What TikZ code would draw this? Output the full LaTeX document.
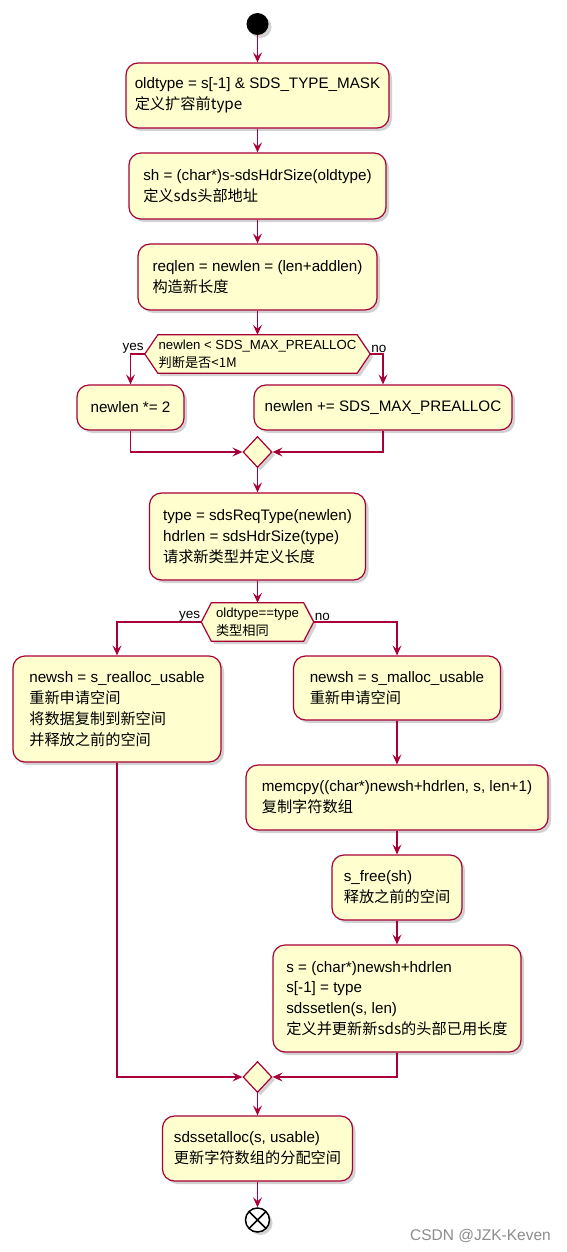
\documentclass[tikz,border=0pt]{standalone}
\usepackage{fontspec}
\setmainfont{Liberation Sans}
\newfontfamily\cjk{Noto Sans CJK SC}
\usetikzlibrary{arrows.meta,shapes.geometric,shadows,backgrounds}
\definecolor{pborder}{HTML}{A80036}
\definecolor{pfill}{HTML}{FEFECE}
\definecolor{wmc}{HTML}{8C8C8C}
\begin{document}
\begin{tikzpicture}[x=1pt,y=-1pt,
  shad/.style={drop shadow={opacity=0.25,shadow xshift=3pt,shadow yshift=-3pt,fill=black!70}},
  act/.style={draw=pborder,fill=pfill,line width=1.2pt,rounded corners=12pt,align=left,inner sep=0pt,font=\fontsize{15.2}{20.8}\selectfont,shad},
  dectext/.style={inner sep=0pt,align=left,minimum height=38pt,font=\fontsize{13.2}{18}\selectfont},
  hexa/.style={draw=pborder,fill=pfill,line width=1.2pt,shad},
  merge/.style={diamond,draw=pborder,fill=pfill,line width=1.2pt,inner sep=0pt,minimum width=29pt,minimum height=31pt,shad},
  lbl/.style={font=\fontsize{13.5}{15}\selectfont,inner sep=1pt},
  arr/.style={draw=pborder,line width=1.2pt,-{Stealth[length=10pt,width=9pt,inset=4pt]}}]
\useasboundingbox (0,0) rectangle (567,1252);
% start
\node[circle,fill=black,minimum size=22pt,inner sep=0pt,shad] (start) at (257.5,24) {};
% boxes
\node[act,minimum width=263pt,minimum height=65pt] (b1) at (257.5,95.5) {oldtype = s[-1] \& SDS\_TYPE\_MASK\\{\cjk 定义扩容前type}};
\node[act,minimum width=257pt,minimum height=66pt] (b2) at (257.5,186) {sh = (char*)s-sdsHdrSize(oldtype)\\{\cjk 定义sds头部地址}};
\node[act,minimum width=239pt,minimum height=66pt] (b3) at (257.5,277) {reqlen = newlen = (len+addlen)\\{\cjk 构造新长度}};
% decision 1
\node[dectext,minimum width=225pt] (d1) at (257.5,354) {newlen < SDS\_MAX\_PREALLOC\\{\cjk 判断是否<1M}};
\begin{scope}[on background layer]
\path[hexa] (d1.west) -- ([xshift=13pt]d1.north west) -- ([xshift=-13pt]d1.north east) -- (d1.east) -- ([xshift=-13pt]d1.south east) -- ([xshift=13pt]d1.south west) -- cycle;
\end{scope}
\node[lbl,anchor=south east] (yes1) at (d1.west) {yes};
\node[lbl,anchor=south west] (no1) at (d1.east) {no};
\node[act,minimum width=107pt,minimum height=45pt] (y1) at (130.5,407.5) {newlen *= 2};
\node[act,minimum width=258pt,minimum height=45pt] (n1) at (383,407.5) {newlen += SDS\_MAX\_PREALLOC};
\node[merge] (m1) at (257.5,452) {};
\node[act,minimum width=216pt,minimum height=87pt] (b4) at (257.5,536.5) {type = sdsReqType(newlen)\\hdrlen = sdsHdrSize(type)\\{\cjk 请求新类型并定义长度}};
% decision 2
\node[dectext,minimum width=112pt] (d2) at (257.5,622) {oldtype==type\\{\cjk 类型相同}};
\begin{scope}[on background layer]
\path[hexa] (d2.west) -- ([xshift=10pt]d2.north west) -- ([xshift=-10pt]d2.north east) -- (d2.east) -- ([xshift=-10pt]d2.south east) -- ([xshift=10pt]d2.south west) -- cycle;
\end{scope}
\node[lbl,anchor=south east] (yes2) at (d2.west) {yes};
\node[lbl,anchor=south west] (no2) at (d2.east) {no};
\node[act,minimum width=208pt,minimum height=106pt] (lb) at (117,709) {newsh = s\_realloc\_usable\\{\cjk 重新申请空间}\\{\cjk 将数据复制到新空间}\\{\cjk 并释放之前的空间}};
\node[act,minimum width=207pt,minimum height=64pt] (rb) at (397,688) {newsh = s\_malloc\_usable\\{\cjk 重新申请空间}};
\node[act,minimum width=302pt,minimum height=65pt] (mc) at (397,797.5) {memcpy((char*)newsh+hdrlen, s, len+1)\\{\cjk 复制字符数组}};
\node[act,minimum width=130pt,minimum height=65pt] (sf) at (397,887.5) {s\_free(sh)\\{\cjk 释放之前的空间}};
\node[act,minimum width=248pt,minimum height=107pt] (sb) at (397,998.5) {s = (char*)newsh+hdrlen\\s[-1] = type\\sdssetlen(s, len)\\{\cjk 定义并更新新sds的头部已用长度}};
\node[merge] (m2) at (257.5,1077) {};
\node[act,minimum width=190pt,minimum height=65pt] (fin) at (257.5,1148.5) {sdssetalloc(s, usable)\\{\cjk 更新字符数组的分配空间}};
% end
\node[circle,draw=black,line width=1.5pt,fill=white,minimum size=24pt,inner sep=0pt,shad,
  path picture={\draw[line width=1.5pt] (path picture bounding box.north west) -- (path picture bounding box.south east) (path picture bounding box.north east) -- (path picture bounding box.south west);}] (end) at (257.5,1220) {};
% connectors
\draw[arr] (start) -- (b1);
\draw[arr] (b1) -- (b2);
\draw[arr] (b2) -- (b3);
\draw[arr] (b3) -- (d1);
\draw[arr] (d1.west) -| (y1.north);
\draw[arr] (d1.east) -| (n1.north);
\draw[arr] (y1.south) |- (m1.west);
\draw[arr] (n1.south) |- (m1.east);
\draw[arr] (m1) -- (b4);
\draw[arr] (b4) -- (d2);
\draw[arr] (d2.west) -| (lb.north);
\draw[arr] (d2.east) -| (rb.north);
\draw[arr] (rb) -- (mc);
\draw[arr] (mc) -- (sf);
\draw[arr] (sf) -- (sb);
\draw[arr] (lb.south) |- (m2.west);
\draw[arr] (sb.south) |- (m2.east);
\draw[arr] (m2) -- (fin);
\draw[arr] (fin) -- (end);
% watermark
\node[font=\fontsize{15.5}{18}\selectfont,text=wmc,anchor=west,inner sep=0pt] (wm) at (410,1236) {CSDN @JZK-Keven};
\end{tikzpicture}
\end{document}
